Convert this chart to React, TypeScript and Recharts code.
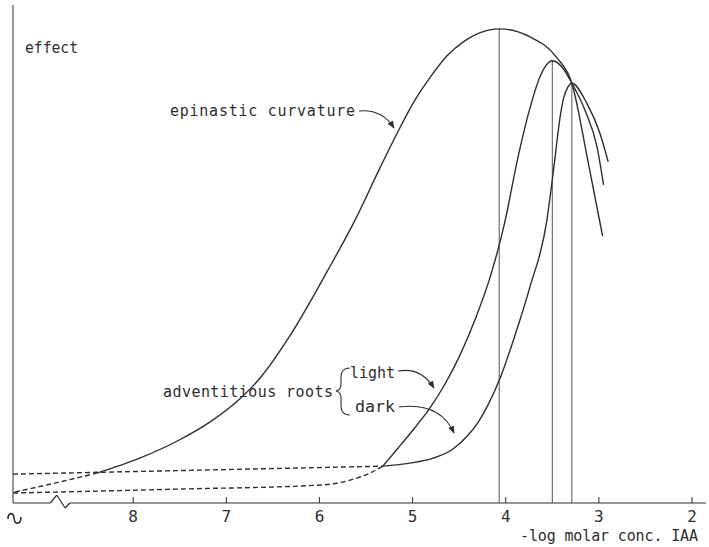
import { LineChart, Line, XAxis, YAxis, ReferenceLine } from 'recharts'

// x = -log molar conc. IAA (axis runs high -> low), y = effect (arbitrary, 0..100)
const xTicks = [8, 7, 6, 5, 4, 3, 2]
const xDomain = [1.85, 9.29]
const yDomain = [0, 100]

const epinasticDashed = [[9.27, 2.2], [8.84, 4.0], [8.39, 6.0]]
const epinasticSolid = [
  [8.39, 6.0], [7.93, 9.0], [7.5, 12.7], [7.174, 16.3], [6.88, 20.5], [6.637, 25.1],
  [6.32, 33.5], [5.92, 46.4], [5.618, 56.8], [5.35, 67.3], [5.17, 74.1], [5.0, 80.1],
  [4.81, 85.5], [4.63, 89.8], [4.44, 92.8], [4.28, 94.4], [4.07, 95.2], [3.74, 93.6],
  [3.45, 89.4], [3.29, 84.3], [3.12, 68.9], [2.96, 53.6],
]

const lightDashed = [[9.29, 2.0], [7.5, 2.8], [5.99, 3.6], [5.67, 4.6], [5.46, 6.0], [5.32, 7.4]]
const lightSolid = [
  [5.32, 7.4], [5.157, 11.0], [4.985, 14.9], [4.813, 19.1], [4.652, 23.9], [4.491, 29.7],
  [4.33, 36.8], [4.17, 45.2], [4.01, 56.4], [3.87, 69.3], [3.74, 79.3], [3.63, 85.7],
  [3.5, 88.8], [3.39, 87.4], [3.29, 84.3], [3.15, 78.9], [3.02, 71.5], [2.95, 63.9],
]

const darkDashed = [[9.29, 5.8], [7.28, 6.6], [5.32, 7.4]]
const darkSolid = [
  [5.32, 7.4], [5.03, 8.0], [4.78, 9.0], [4.57, 10.8], [4.42, 13.3], [4.3, 16.1],
  [4.19, 19.7], [4.06, 25.1], [3.9, 33.7], [3.74, 43.4], [3.558, 56.8], [3.504, 64.3],
  [3.461, 70.9], [3.418, 77.3], [3.376, 81.5], [3.333, 83.5], [3.29, 84.3], [3.13, 80.3],
  [2.99, 74.3], [2.9, 68.5],
]

// optimum of each response, dropped to the axis
const optimumX = [4.07, 3.5, 3.29]
const optimumY = [95.2, 88.8, 84.3]

// x axis line with the break near the origin
const axisLinePts = [[9.29, 0], [8.89, 0], [8.82, 1.6], [8.73, -1.0], [8.68, 0], [1.85, 0]]

const ink = '#2e2e2e'
const font = '"DejaVu Sans Mono", monospace'

const toPts = (arr: number[][]) => arr.map(([x, y]) => ({ x, y }))

function AxisTick(props: any) {
  const { x, y, payload } = props
  return (
    <g>
      <line x1={x} x2={x} y1={y} y2={y - 6} stroke={ink} strokeWidth={1} />
      <text x={x} y={y + 19} textAnchor="middle" fontFamily={font} fontSize={16} fill={ink}>
        {payload.value}
      </text>
    </g>
  )
}

const curve = {
  type: 'monotone' as const,
  dataKey: 'y',
  stroke: ink,
  strokeWidth: 1.4,
  dot: false,
  activeDot: false,
  isAnimationActive: false,
}

export default function App() {
  return (
    <div style={{ position: 'absolute', left: 0, top: 0, width: 709, height: 547, background: '#fff' }}>
      <LineChart width={709} height={547} margin={{ top: 5, right: 3, left: 12, bottom: 14 }}>
        <XAxis
          type="number"
          dataKey="x"
          domain={xDomain}
          reversed
          ticks={xTicks}
          axisLine={false}
          tickLine={false}
          tickSize={0}
          tickMargin={0}
          tick={<AxisTick />}
          height={30}
        />
        <YAxis type="number" domain={yDomain} tick={false} tickLine={false} axisLine={{ stroke: ink }} width={1} />
        {axisLinePts.slice(1).map((p, i) => (
          <ReferenceLine
            key={'ax' + i}
            segment={[{ x: axisLinePts[i][0], y: axisLinePts[i][1] }, { x: p[0], y: p[1] }]}
            stroke={ink}
            strokeWidth={1.2}
            ifOverflow="visible"
          />
        ))}
        {optimumX.map((x, i) => (
          <ReferenceLine
            key={'opt' + i}
            segment={[{ x, y: 0 }, { x, y: optimumY[i] }]}
            stroke="#555"
            strokeWidth={1}
          />
        ))}
        <Line {...curve} data={toPts(epinasticDashed)} strokeDasharray="5 3" />
        <Line {...curve} data={toPts(epinasticSolid)} />
        <Line {...curve} data={toPts(lightDashed)} strokeDasharray="5 3" />
        <Line {...curve} data={toPts(lightSolid)} />
        <Line {...curve} data={toPts(darkDashed)} strokeDasharray="5 3" />
        <Line {...curve} data={toPts(darkSolid)} />
      </LineChart>
      <svg
        width={709}
        height={547}
        style={{ position: 'absolute', left: 0, top: 0, pointerEvents: 'none' }}
        fontFamily={font}
        fill={ink}
      >
        <defs>
          <marker id="head" viewBox="0 0 10 10" refX="9" refY="5" markerWidth="7" markerHeight="7" orient="auto">
            <path d="M0,1 L10,5 L0,9 z" fill={ink} />
          </marker>
        </defs>
        <text x={25} y={53} fontSize={15} textLength={53} lengthAdjust="spacingAndGlyphs">effect</text>
        <text x={170} y={116} fontSize={15} textLength={185} lengthAdjust="spacing">epinastic curvature</text>
        <path d="M359 111 Q382 109 394 128" fill="none" stroke={ink} strokeWidth={1.1} markerEnd="url(#head)" />
        <text x={163} y={397} fontSize={15} textLength={170} lengthAdjust="spacing">adventitious roots</text>
        <path d="M350 368 Q341 368 341 377 L341 384 Q341 390 336 391 Q341 392 341 398 L341 406 Q341 415 350 415" fill="none" stroke={ink} strokeWidth={1.1} />
        <text x={350} y={378} fontSize={15} textLength={45} lengthAdjust="spacingAndGlyphs">light</text>
        <path d="M398 371 Q421 367 434 388" fill="none" stroke={ink} strokeWidth={1.1} markerEnd="url(#head)" />
        <text x={355} y={412} fontSize={15} textLength={40} lengthAdjust="spacingAndGlyphs">dark</text>
        <path d="M399 407 Q440 402 454 433" fill="none" stroke={ink} strokeWidth={1.1} markerEnd="url(#head)" />
        <text x={520} y={541} fontSize={15} textLength={178} lengthAdjust="spacing">-log molar conc. IAA</text>
        <path d="M8 519 C8 512 14 512 14 518 C14 525 21 525 21 517" fill="none" stroke={ink} strokeWidth={1.6} />
      </svg>
    </div>
  )
}
